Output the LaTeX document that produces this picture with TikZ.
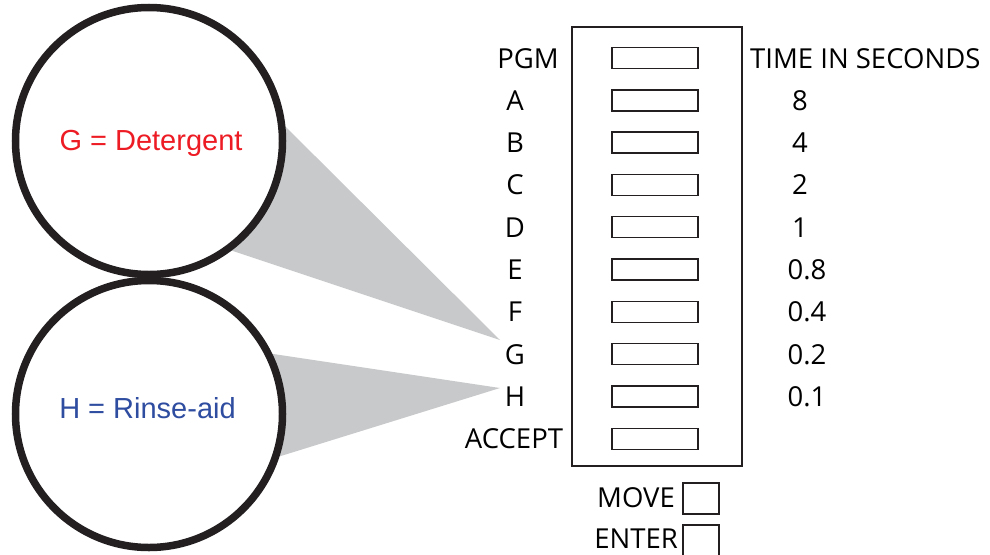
\documentclass[tikz,border=0pt]{standalone}
\usepackage{fontspec}
\setmainfont{Open Sans}
\newfontfamily\arialfont{Liberation Sans}
\usetikzlibrary{positioning,backgrounds}

\definecolor{detred}{RGB}{237,28,36}
\definecolor{rinseblue}{RGB}{46,76,160}
\definecolor{wedgegray}{RGB}{200,201,203}
\definecolor{rimblack}{RGB}{35,31,32}

\begin{document}
\begin{tikzpicture}[x=1pt,y=-1pt,
	  every node/.style={inner sep=0pt,font=\fontsize{27.5}{30}\selectfont},
	  bubble/.style={circle,draw=rimblack,line width=7.5pt,fill=white,minimum size=267pt},
	  bubbletext/.style={font=\arialfont\fontsize{29}{32}\selectfont},
	  wedge/.style={fill=wedgegray},
	  panelbox/.style={draw=rimblack,line width=1.6pt},
	  slot/.style={draw=rimblack,line width=1.4pt,minimum width=86pt,minimum height=21pt},
	  keybox/.style={draw=rimblack,line width=1.4pt,minimum width=36pt,minimum height=31pt}]

	  \useasboundingbox (0,0) rectangle (990,554);

	  % The two magnified circles
	  \node[bubble] (gbub) at (149,141) {};
	  \node[bubble] (hbub) at (149,414) {};
	  \node[bubbletext,text=detred,anchor=base] (gtext) at (151,150) {G = Detergent};
	  \node[bubbletext,text=rinseblue,anchor=base] (htext) at (147.5,418) {H = Rinse-aid};

	  % Programming panel
	  \node[panelbox,minimum width=170pt,minimum height=439pt] (panel) at (657,246.5) {};
	  \foreach \i in {0,...,9}
	    \node[slot] (slot\i) at (655,{58+42.3*\i}) {};
	  \foreach \lab/\lx [count=\i from 0] in {PGM/528,A/515,B/515,C/515,D/515,E/515,F/515,G/515,H/515,ACCEPT/514}
	    \node[anchor=base] (key\lab) at (\lx,{68+42.3*\i}) {\lab};
	  \node[anchor=base west] (timehead) at (750,68) {TIME IN SECONDS};
	  \foreach \val/\vx [count=\i] in {8/800,4/800,2/800,1/800,0.8/807,0.4/807,0.2/807,0.1/807}
	    \node[anchor=base] (time\i) at (\vx,{68+42.3*\i}) {\val};

	  \node[keybox] (movekey) at (701,498.5) {};
	  \node[anchor=base east] (movelab) at (675,507) {MOVE};
	  \node[keybox] (enterkey) at (701,540.5) {};
	  \node[anchor=base east] (enterlab) at (678,548) {ENTER};

	  % Pointers from the letters to the circles
	  \coordinate (gtip) at (500,340);
	  \coordinate (htip) at (500,388);
	  \begin{scope}[on background layer]
	    \fill[wedge] (gtip) -- (gbub.6.7) -- (gbub.center) -- (gbub.-53) -- cycle;
	    \fill[wedge] (htip) -- (hbub.26.6) -- (hbub.center) -- (hbub.-18.6) -- cycle;
	  \end{scope}
\end{tikzpicture}
\end{document}
